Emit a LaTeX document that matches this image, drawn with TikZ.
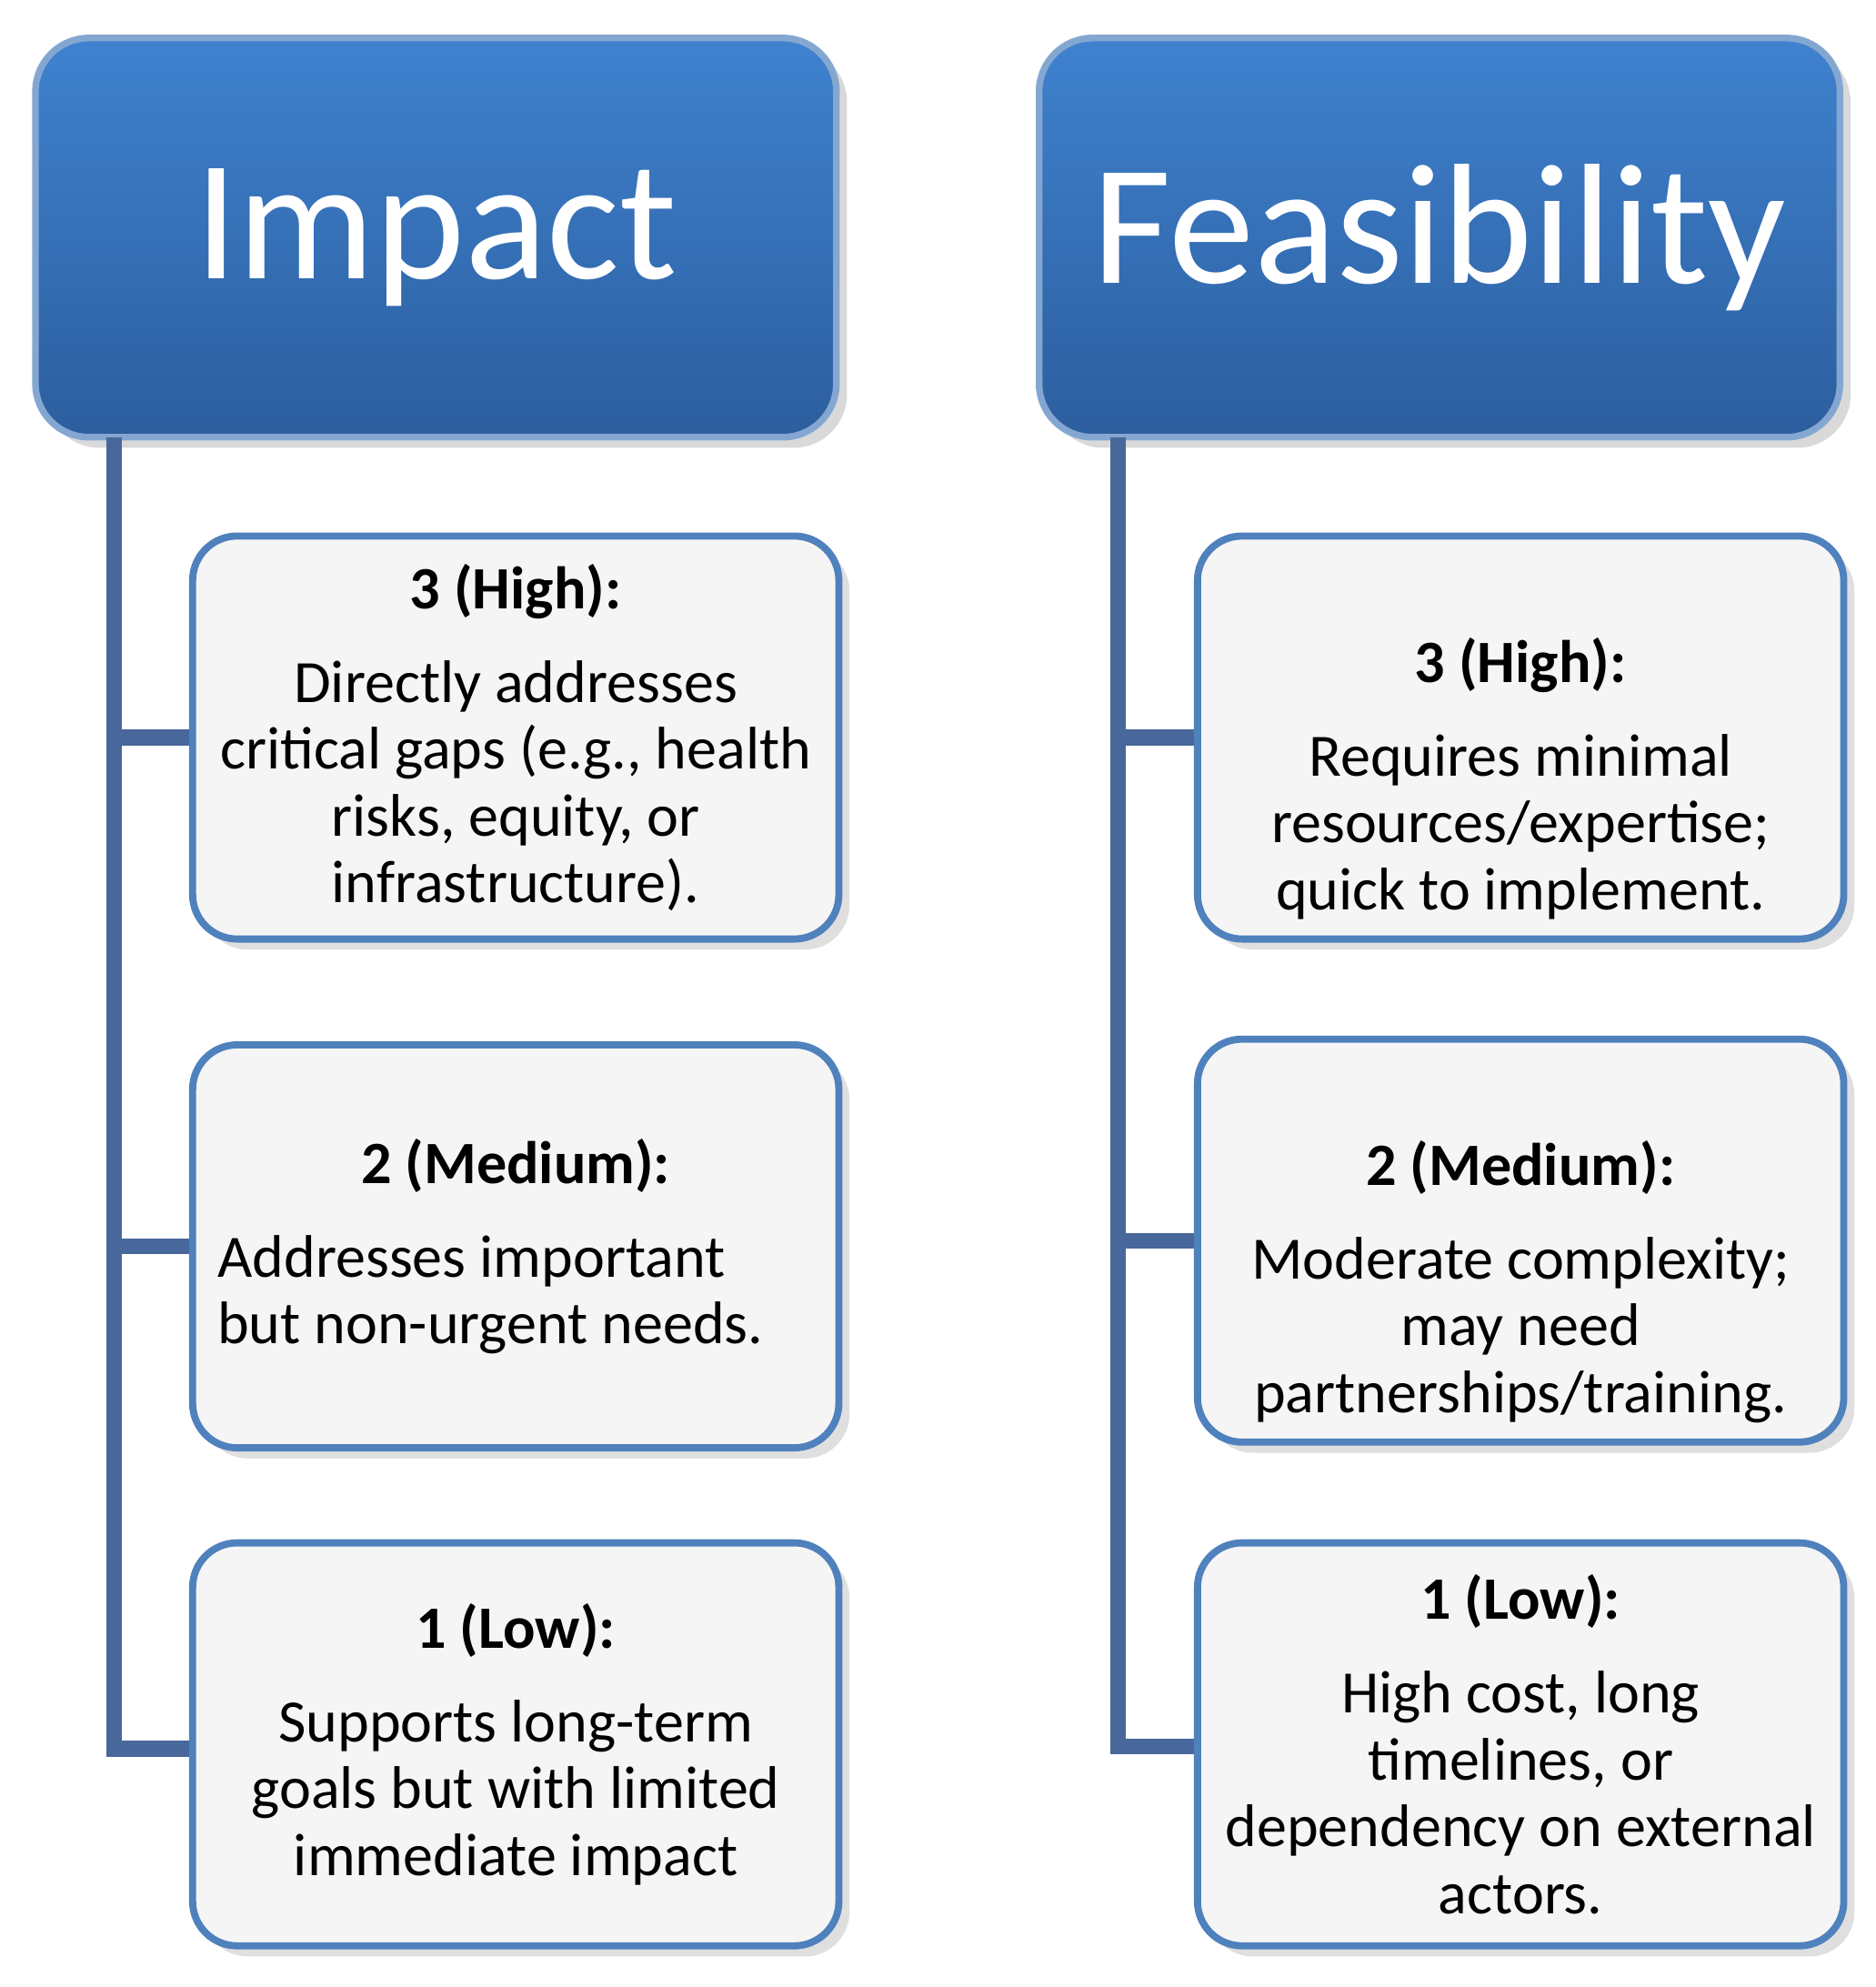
\documentclass[tikz,border=0pt]{standalone}
\usepackage{fontspec}
\setmainfont{Carlito}
\usetikzlibrary{shadows}
\definecolor{hdtop}{HTML}{3F82CF}
\definecolor{hdbot}{HTML}{2C5E9E}
\definecolor{edge}{HTML}{4F81BD}
\definecolor{trunk}{HTML}{48679A}
\tikzset{
	head/.style={rounded corners=12pt, top color=hdtop, bottom color=hdbot, draw=edge!70!white, line width=1.5pt,
		minimum width=6.32cm, minimum height=3.15cm, text=white, font=\fontsize{38.5}{44}\selectfont,
		drop shadow={opacity=0.3}},
	item/.style={rounded corners=10pt, fill=black!4, draw=edge, line width=1.6pt,
		minimum width=5.1cm, minimum height=3.18cm, align=center,
		font=\fontsize{13.5}{15}\selectfont, drop shadow={opacity=0.25}},
	link/.style={draw=trunk, line width=3.5pt}
}
\newcommand{\lowr}{\rule{0pt}{1.0cm}}
\begin{document}
\begin{tikzpicture}
    \useasboundingbox (0,0) rectangle (14.8,-15.68);
    % headers
    \node[head] (imp) at (3.44,-1.875) {Impact};
    \node[head] (fea) at (11.36,-1.875) {Feasibility};
    % trunks
    \coordinate (impT) at (0.9,-3.45);
    \coordinate (feaT) at (8.82,-3.45);
    \draw[link] (impT) |- (2.0,-13.8);
    \draw[link] (feaT) |- (9.9,-13.78);
    % impact levels
    \node[item] (i1) at (4.07,-5.82) {\textbf{3 (High):}\\[6pt] Directly addresses\\critical gaps (e.g., health\\risks, equity, or\\infrastructure).};
    \node[item] (i2) at (4.07,-9.835) {\textbf{2 (Medium):}\\[6pt] \hspace*{-0.7cm}Addresses important\\\hspace*{-0.4cm}but non-urgent needs.};
    \node[item] (i3) at (4.07,-13.765) {\textbf{1 (Low):}\\[6pt] Supports long-term\\goals but with limited\\immediate impact};
    % feasibility levels
    \node[item] (f1) at (12.0,-5.82) {\lowr\textbf{3 (High):}\\[6pt] Requires minimal\\resources/expertise;\\quick to implement.};
    \node[item] (f2) at (12.0,-9.79) {\lowr\textbf{2 (Medium):}\\[6pt] Moderate complexity;\\may need\\partnerships/training.};
    \node[item] (f3) at (12.0,-13.765) {\textbf{1 (Low):}\\[6pt] High cost, long\\timelines, or\\dependency on external\\actors.};
    % branches
    \draw[link] (impT |- i1.west) -- (i1.west);
    \draw[link] (impT |- i2.west) -- (i2.west);
    \draw[link] (feaT |- f1.west) -- (f1.west);
    \draw[link] (feaT |- f2.west) -- (f2.west);
\end{tikzpicture}
\end{document}
